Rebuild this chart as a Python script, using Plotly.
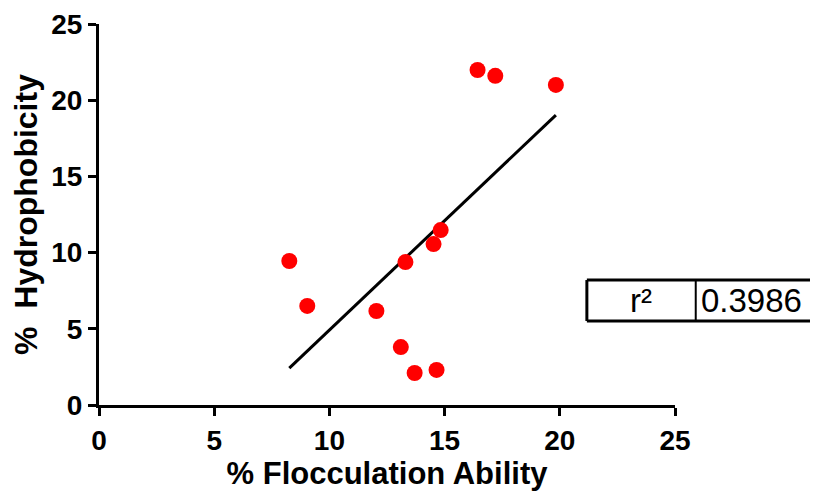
import numpy as np
import plotly.graph_objects as go

flocculation = [8.26, 9.04, 12.04, 13.1, 13.7, 14.65, 13.3, 14.52, 14.83, 16.43, 17.2, 19.83]
hydrophobicity = [9.45, 6.5, 6.17, 3.8, 2.1, 2.3, 9.38, 10.56, 11.48, 21.98, 21.6, 21.0]
r2_label = "r²"
r2_value = "0.3986"
ticks = [0, 5, 10, 15, 20, 25]

x = np.array(flocculation)
y = np.array(hydrophobicity)
slope, intercept = np.polyfit(x, y, 1)
fit_x = [x.min(), x.max()]
fit_y = [slope * v + intercept for v in fit_x]

fig = go.Figure()
fig.add_trace(go.Scatter(x=fit_x, y=fit_y, mode="lines",
                         line=dict(color="black", width=3), showlegend=False))
fig.add_trace(go.Scatter(x=flocculation, y=hydrophobicity, mode="markers",
                         marker=dict(color="#ff0000", size=16), showlegend=False))

axis_common = dict(
    range=[0, 25], tickvals=ticks, ticks="outside", ticklen=8, tickwidth=3,
    tickcolor="black", showline=True, linecolor="black", linewidth=3,
    showgrid=False, zeroline=False,
    tickfont=dict(family="Liberation Sans", size=28, color="black", weight="bold"),
)
fig.update_xaxes(**axis_common,
                 title=dict(text="% Flocculation Ability", standoff=8,
                            font=dict(family="Liberation Sans", size=31, color="black", weight="bold")))
fig.update_yaxes(**axis_common,
                 title=dict(text="%  Hydrophobicity", standoff=6,
                            font=dict(family="Liberation Sans", size=32, color="black", weight="bold")))

# r² table (open on the right, running off the page)
x0, xm, x1 = 0.847, 1.036, 1.30
y0, y1 = 0.2205, 0.328
for (ax, bx, ay, by, w) in [(x0, x1, y0, y0, 3), (x0, x1, y1, y1, 3),
                            (x0, x0, y0, y1, 3), (xm, xm, y0, y1, 2)]:
    fig.add_shape(type="line", xref="paper", yref="paper", x0=ax, x1=bx, y0=ay, y1=by,
                  line=dict(color="black", width=w))
fig.add_annotation(xref="paper", yref="paper", x=(x0 + xm) / 2, y=(y0 + y1) / 2,
                   xanchor="center", yanchor="middle",
                   text=r2_label, showarrow=False,
                   font=dict(family="Liberation Sans", size=33, color="black"))
fig.add_annotation(xref="paper", yref="paper", x=xm + 0.006, y=(y0 + y1) / 2,
                   xanchor="left", yanchor="middle", text=r2_value, showarrow=False,
                   font=dict(family="Liberation Sans", size=33, color="black"))

fig.update_layout(width=810, height=488, margin=dict(l=91, r=143, t=16, b=91, autoexpand=False),
                  plot_bgcolor="white", paper_bgcolor="white")
fig.write_html("out.html")
